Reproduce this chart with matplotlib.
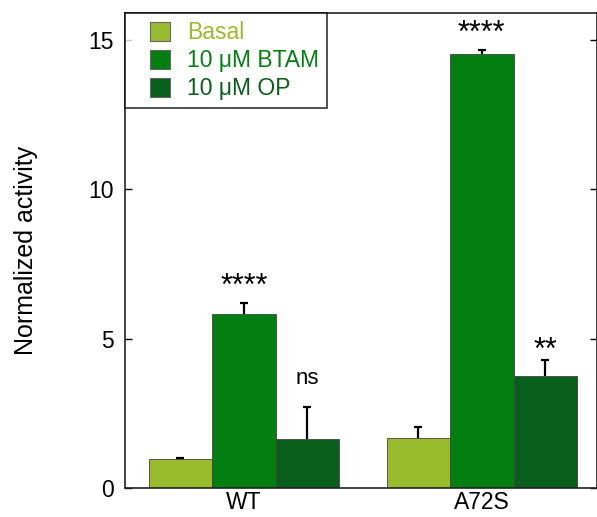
import numpy as np
import matplotlib
matplotlib.use("Agg")
import matplotlib.pyplot as plt
from matplotlib.patches import Patch, Rectangle
from matplotlib.legend_handler import HandlerPatch

plt.rcParams['font.family'] = ['Liberation Sans', 'DejaVu Sans']

groups = ["WT", "A72S"]
series = ["Basal", "10 \u03bcM BTAM", "10 \u03bcM OP"]
means = {
    "Basal": [0.98, 1.66],
    "10 \u03bcM BTAM": [5.84, 14.52],
    "10 \u03bcM OP": [1.64, 3.76],
}
errs = {
    "Basal": [0.03, 0.37],
    "10 \u03bcM BTAM": [0.35, 0.14],
    "10 \u03bcM OP": [1.08, 0.52],
}
stars = {
    "Basal": ["", ""],
    "10 \u03bcM BTAM": ["****", "****"],
    "10 \u03bcM OP": ["ns", "**"],
}
colors = ["#9bbb2e", "#037f12", "#0a5e1c"]


def square_patch(legend, orig_handle, xdescent, ydescent, width, height, fontsize):
    # square sitting at the right end of the handle box
    sq = height * 1.05
    return Rectangle((-xdescent + width - sq, -ydescent), sq, height)


fig = plt.figure(figsize=(5.97, 5.17), dpi=100)
ax = fig.add_axes([0.2094, 0.0561, 0.79, 0.9188])

x = np.arange(len(groups))
w = 0.267
for i, s in enumerate(series):
    pos = x + (i - 1) * w
    ax.bar(pos, means[s], w, color=colors[i], edgecolor="#444444", linewidth=0.6, zorder=2)
    eb = ax.errorbar(pos, means[s], yerr=[np.zeros(len(groups)), errs[s]], fmt="none",
                     ecolor="black", elinewidth=1.6, capsize=3, capthick=1.6, zorder=3)
    eb[1][0].set_visible(False)  # hide lower caps
    for j, lab in enumerate(stars[s]):
        if not lab:
            continue
        top = means[s][j] + errs[s][j]
        if lab == "ns":
            ax.text(pos[j], top + 0.6, lab, ha="center", va="bottom", fontsize=16)
        elif lab == "**":
            ax.text(pos[j], top + 0.05, lab, ha="center", va="baseline", fontsize=22)
        else:
            ax.text(pos[j], top + 0.28, lab, ha="center", va="baseline", fontsize=22)

ax.set_xlim(-0.5, 1.483)
ax.set_ylim(0, 15.9)
ax.set_xticks(x)
ax.set_xticklabels(groups, fontsize=16.5)
ax.set_yticks([0, 5, 10, 15])
ax.tick_params(axis="y", direction="in", right=True, labelsize=16.5, length=5, width=1, pad=8)
ax.tick_params(axis="x", length=0, pad=2)
ax.set_ylabel("Normalized activity", fontsize=18, labelpad=36)
for sp in ax.spines.values():
    sp.set_linewidth(1.2)
    sp.set_color("#222222")

handles = [Patch(facecolor=c, edgecolor="#666666", linewidth=0.8) for c in colors]
leg = ax.legend(handles, series, loc="upper left", bbox_to_anchor=(0.0, 1.0), fontsize=16.5,
                frameon=True, fancybox=False, edgecolor="black", handlelength=1.6,
                handleheight=0.9, handletextpad=0.75, borderpad=0.35, labelspacing=0.22,
                borderaxespad=0, handler_map={Patch: HandlerPatch(patch_func=square_patch)})
leg.get_frame().set_linewidth(1.2)
for t, c in zip(leg.get_texts(), colors):
    t.set_color(c)

fig.savefig("out.png", dpi=100)
